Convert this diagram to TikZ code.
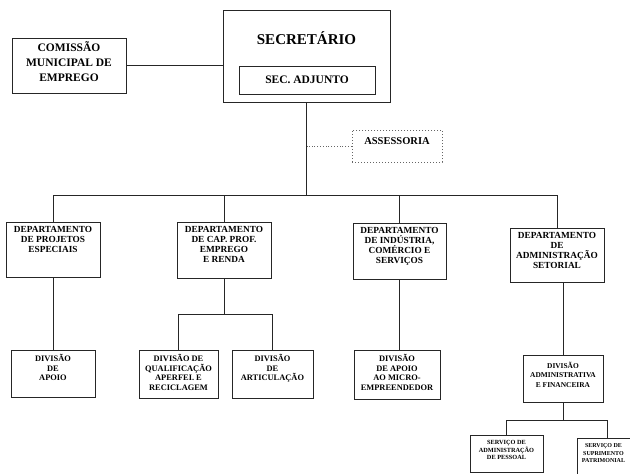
\documentclass[tikz,border=0pt]{standalone}
\usepackage{fontspec}
\setmainfont{Liberation Serif}
\begin{document}
\begin{tikzpicture}[x=1pt,y=-1pt,
  box/.style={draw=black!85, line width=1pt, inner sep=0pt, fill=white},
  ln/.style={draw=black!85, line width=1pt},
  dotln/.style={draw=black!60, line width=0.8pt, dotted},
  txt/.style={align=center, inner sep=0pt, anchor=north},
  bigtxt/.style={txt, font=\bfseries\fontsize{15}{17}\selectfont},
  comtxt/.style={txt, font=\bfseries\fontsize{11.5}{15}\selectfont},
  deptxt/.style={txt, font=\bfseries\fontsize{9.3}{9.8}\selectfont},
  divtxt/.style={txt, font=\bfseries\fontsize{8.4}{9.5}\selectfont},
  smalltxt/.style={txt, font=\bfseries\fontsize{6.3}{7.5}\selectfont}
]
\useasboundingbox (0,0) rectangle (630,474);
\clip (0,0) rectangle (630,474);
\fill[white] (0,0) rectangle (630,474);

% coordinates for bus lines
\coordinate (busA) at (0,195);
\coordinate (busB) at (0,314);
\coordinate (busC) at (0,420);

% Top level
\node[box, minimum width=167pt, minimum height=92pt] (sec) at (306.5,56) {};
\node[bigtxt, anchor=center] (sect) at (306.5,38) {SECRETÁRIO};
\node[box, minimum width=136pt, minimum height=28pt] (adj) at (307,80) {};
\node[txt, anchor=center, font=\bfseries\fontsize{11.5}{13}\selectfont] (adjt) at (adj.center) {SEC. ADJUNTO};

\node[box, minimum width=114pt, minimum height=55pt] (com) at (69,65.5) {};
\node[comtxt] (comt) at ([yshift=-4pt]com.north) {COMISSÃO\\MUNICIPAL DE\\EMPREGO};

\node[box, draw=black!60, dotted, line width=0.8pt, minimum width=90pt, minimum height=32pt] (ass) at (397,146) {};
\node[txt, anchor=center, font=\bfseries\fontsize{10.5}{12}\selectfont] (asst) at (397,141) {ASSESSORIA};

% Departments
\node[box, minimum width=94pt, minimum height=55pt] (d1) at (53,249.5) {};
\node[deptxt] (d1t) at ([yshift=-5pt]d1.north) {DEPARTAMENTO\\DE PROJETOS\\ESPECIAIS};
\node[box, minimum width=94pt, minimum height=56pt] (d2) at (224,250) {};
\node[deptxt] (d2t) at ([yshift=-5pt]d2.north) {DEPARTAMENTO\\DE CAP. PROF.\\EMPREGO\\E RENDA};
\node[box, minimum width=93pt, minimum height=56pt] (d3) at (399.5,251) {};
\node[deptxt] (d3t) at ([yshift=-5pt]d3.north) {DEPARTAMENTO\\DE INDÚSTRIA,\\COMÉRCIO E\\SERVIÇOS};
\node[box, minimum width=94pt, minimum height=54pt] (d4) at (557,255) {};
\node[deptxt] (d4t) at ([yshift=-5pt]d4.north) {DEPARTAMENTO\\DE\\ADMINISTRAÇÃO\\SETORIAL};

% Divisions
\node[box, minimum width=84pt, minimum height=47pt] (v1) at (53,373.5) {};
\node[divtxt] (v1t) at ([yshift=-5pt]v1.north) {DIVISÃO\\DE\\APOIO};
\node[box, minimum width=79pt, minimum height=48pt] (v2) at (178.5,374) {};
\node[divtxt] (v2t) at ([yshift=-5pt]v2.north) {DIVISÃO DE\\QUALIFICAÇÃO\\APERFEI. E\\RECICLAGEM};
\node[box, minimum width=81pt, minimum height=48pt] (v3) at (272.5,374) {};
\node[divtxt] (v3t) at ([yshift=-5pt]v3.north) {DIVISÃO\\DE\\ARTICULAÇÃO};
\node[box, minimum width=86pt, minimum height=49pt] (v4) at (397,374.5) {};
\node[divtxt] (v4t) at ([yshift=-5pt]v4.north) {DIVISÃO\\DE APOIO\\AO MICRO-\\EMPREENDEDOR};
\node[box, minimum width=80pt, minimum height=47pt] (v5) at (563,378.5) {};
\node[divtxt, font=\bfseries\fontsize{7.4}{9.5}\selectfont] (v5t) at ([yshift=-7pt]v5.north) {DIVISÃO\\ADMINISTRATIVA\\E FINANCEIRA};

% Services
\node[box, minimum width=73pt, minimum height=37pt] (s1) at (506.5,453.5) {};
\node[smalltxt] (s1t) at ([yshift=-6pt]s1.north) {SERVIÇO DE\\ADMINISTRAÇÃO\\DE PESSOAL};
\node[box, minimum width=73pt, minimum height=37pt] (s2) at (613.5,456.5) {};
\node[smalltxt, font=\bfseries\fontsize{6}{7.5}\selectfont] (s2t) at ([xshift=-10pt,yshift=-6pt]s2.north) {SERVIÇO DE\\SUPRIMENTO\\PATRIMONIAL};

% Connectors
\draw[ln] (com.east) -- (com.east -| sec.west);
\draw[ln] (sec.south) -- (sec.south |- busA);
\draw[dotln] (ass.west) -- (ass.west -| sec.south);
\draw[ln] (d1.north |- busA) -- (d4.north |- busA);
\foreach \d in {d1,d2,d3,d4} { \draw[ln] (\d.north) -- (\d.north |- busA); }

\draw[ln] (v1.north) -- (v1.north |- d1.south);
\draw[ln] (d2.south) -- (d2.south |- busB);
\draw[ln] (v2.north |- busB) -- (v3.north |- busB);
\draw[ln] (v2.north) -- (v2.north |- busB);
\draw[ln] (v3.north) -- (v3.north |- busB);
\draw[ln] (d3.south) -- (d3.south |- v4.north);
\draw[ln] (v5.north) -- (v5.north |- d4.south);

\draw[ln] (v5.south) -- (v5.south |- busC);
\draw[ln] (s1.north |- busC) -- ([xshift=-6pt]s2.north |- busC);
\draw[ln] (s1.north) -- (s1.north |- busC);
\draw[ln] ([xshift=-6pt]s2.north) -- ([xshift=-6pt]s2.north |- busC);
\end{tikzpicture}
\end{document}
